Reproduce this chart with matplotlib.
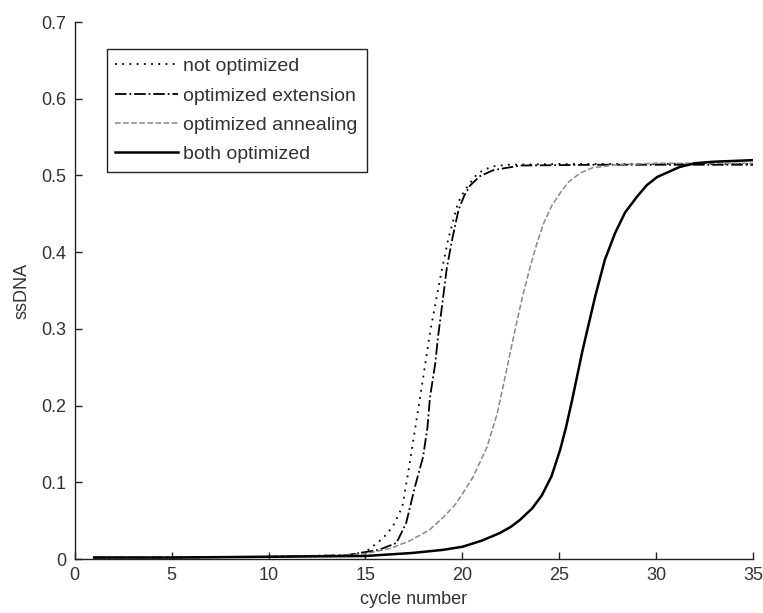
"""
ssDNA vs cycle number for four PCR optimization settings.
"""

import matplotlib.pyplot as plt

plt.rcParams["font.family"] = ["Liberation Sans", "DejaVu Sans"]

# not optimized (dotted)
x_not = [1, 5, 10, 14, 15, 15.9, 16.4, 16.9, 17.2, 17.55, 17.9, 18.33, 18.84,
         19.26, 19.77, 20.1, 20.39, 20.7, 21.06, 21.6, 22.3, 25, 30, 35]
y_not = [0.002, 0.002, 0.003, 0.005, 0.009, 0.027, 0.042, 0.068, 0.112, 0.168,
         0.224, 0.295, 0.364, 0.416, 0.464, 0.480, 0.490, 0.500, 0.507, 0.512,
         0.514, 0.515, 0.515, 0.515]

# optimized extension (dash-dot)
x_ext = [1, 5, 10, 14, 15.7, 16.6, 17.1, 17.55, 17.97, 18.2, 18.33, 18.6, 18.74,
         18.95, 19.2, 19.5, 19.8, 20.1, 20.4, 20.9, 21.6, 23, 27, 35]
y_ext = [0.002, 0.002, 0.003, 0.005, 0.012, 0.021, 0.047, 0.094, 0.133, 0.172,
         0.211, 0.255, 0.289, 0.330, 0.380, 0.420, 0.455, 0.474, 0.487, 0.499,
         0.507, 0.513, 0.514, 0.514]

# optimized annealing (dashed)
x_ann = [1, 5, 10, 14, 15, 16.3, 17.3, 18.3, 19.0, 19.7, 20.55, 21.27, 21.8,
         22.1, 22.46, 22.8, 23.1, 23.5, 23.85, 24.2, 24.6, 25.04, 25.5, 26.07,
         26.7, 28, 30, 35]
y_ann = [0.002, 0.002, 0.003, 0.005, 0.007, 0.014, 0.024, 0.038, 0.054, 0.073,
         0.107, 0.146, 0.190, 0.225, 0.268, 0.308, 0.342, 0.381, 0.412, 0.438,
         0.460, 0.477, 0.492, 0.503, 0.510, 0.514, 0.516, 0.516]

# both optimized (solid)
x_both = [1, 5, 10, 15, 17.45, 19.0, 20.0, 21.0, 21.94, 22.5, 22.97, 23.6, 24.1,
          24.6, 25.04, 25.35, 25.66, 26.2, 26.85, 27.35, 27.88, 28.4, 29.0,
          29.5, 30.05, 31.2, 32, 33, 35]
y_both = [0.002, 0.002, 0.003, 0.004, 0.008, 0.012, 0.016, 0.024, 0.034, 0.042,
          0.051, 0.066, 0.083, 0.108, 0.142, 0.172, 0.207, 0.272, 0.342, 0.390,
          0.425, 0.452, 0.472, 0.487, 0.498, 0.511, 0.516, 0.518, 0.520]

txt = "#333333"

fig = plt.figure(figsize=(7.63, 6.13), dpi=100)
ax = fig.add_axes([0.098, 0.088, 0.889, 0.876])

ax.plot(x_not, y_not, color="black", lw=1.3, linestyle=(0, (1, 3)),
        label="not optimized")
ax.plot(x_ext, y_ext, color="black", lw=1.3, linestyle="-.",
        label="optimized extension")
ax.plot(x_ann, y_ann, color="#888888", lw=1.1, linestyle="--",
        label="optimized annealing")
ax.plot(x_both, y_both, color="black", lw=1.8, label="both optimized")

ax.set_xlim(0, 35)
ax.set_ylim(0, 0.7)
ax.set_xticks([0, 5, 10, 15, 20, 25, 30, 35])
ax.set_yticks([0, 0.1, 0.2, 0.3, 0.4, 0.5, 0.6, 0.7])
ax.set_yticklabels(["0", "0.1", "0.2", "0.3", "0.4", "0.5", "0.6", "0.7"])

for s in ["top", "right"]:
    ax.spines[s].set_visible(False)
for s in ["left", "bottom"]:
    ax.spines[s].set_color("#222222")
    ax.spines[s].set_linewidth(1.0)

ax.tick_params(direction="in", length=5, width=1, colors="#222222",
               labelcolor=txt, labelsize=13, pad=6)

ax.set_xlabel("cycle number", fontsize=13, color=txt, labelpad=5)
ax.set_ylabel("ssDNA", fontsize=13, color=txt, labelpad=8)

leg = ax.legend(loc="upper left", bbox_to_anchor=(0.047, 0.950),
                borderaxespad=0, fontsize=14, handlelength=3.2,
                handletextpad=0.3, labelspacing=0.6, borderpad=0.45,
                fancybox=False, framealpha=1, edgecolor="#222222")
leg.get_frame().set_linewidth(1.0)
for t in leg.get_texts():
    t.set_color(txt)

plt.savefig("out.png", dpi=100)
